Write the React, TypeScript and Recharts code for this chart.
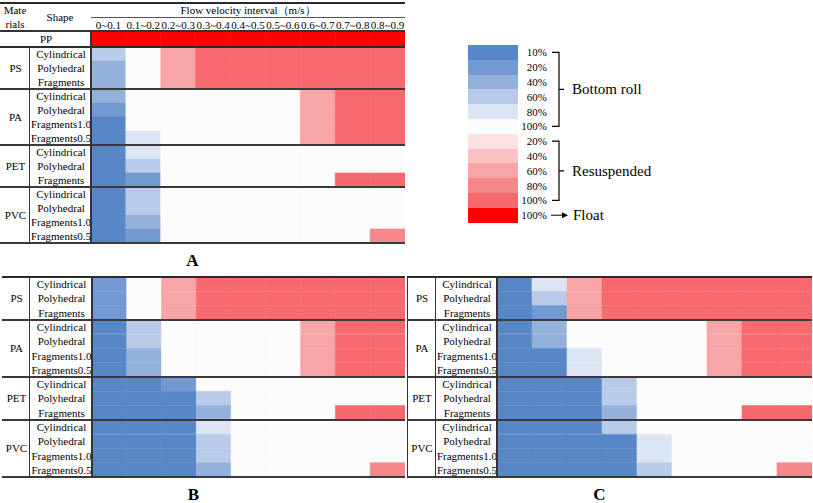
import { Bar, BarChart, Cell, XAxis, YAxis } from "recharts";

const FONT = "'Liberation Serif', Tinos, 'Times New Roman', 'DejaVu Serif', serif";

// velocity intervals (columns)
const INTERVALS = ["0~0.1", "0.1~0.2", "0.2~0.3", "0.3~0.4", "0.4~0.5", "0.5~0.6", "0.6~0.7", "0.7~0.8", "0.8~0.9"];

const MATERIALS = ["PS", "PA", "PET", "PVC"];
const MATERIAL_ROWS = [3, 4, 3, 4];
const SHAPES = [
    "Cylindrical", "Polyhedral", "Fragments",
    "Cylindrical", "Polyhedral", "Fragments1.0", "Fragments0.5",
    "Cylindrical", "Polyhedral", "Fragments",
    "Cylindrical", "Polyhedral", "Fragments1.0", "Fragments0.5",
];

// level codes: b = bottom roll %, w = 100% bottom roll, r = resuspended %, fl = float
const PP_LEVELS = [["fl", "fl", "fl", "fl", "fl", "fl", "fl", "fl", "fl"]];

const LEVELS_A = [
    ["b60", "w", "r60", "r100", "r100", "r100", "r100", "r100", "r100"],
    ["b40", "w", "r60", "r100", "r100", "r100", "r100", "r100", "r100"],
    ["b40", "w", "r60", "r100", "r100", "r100", "r100", "r100", "r100"],
    ["b40", "w", "w", "w", "w", "w", "r60", "r100", "r100"],
    ["b20", "w", "w", "w", "w", "w", "r60", "r100", "r100"],
    ["b10", "w", "w", "w", "w", "w", "r60", "r100", "r100"],
    ["b10", "b80", "w", "w", "w", "w", "r60", "r100", "r100"],
    ["b10", "b80", "w", "w", "w", "w", "w", "w", "w"],
    ["b10", "b60", "w", "w", "w", "w", "w", "w", "w"],
    ["b10", "b20", "w", "w", "w", "w", "w", "r100", "r100"],
    ["b10", "b60", "w", "w", "w", "w", "w", "w", "w"],
    ["b10", "b60", "w", "w", "w", "w", "w", "w", "w"],
    ["b10", "b40", "w", "w", "w", "w", "w", "w", "w"],
    ["b10", "b20", "w", "w", "w", "w", "w", "w", "r80"],
];

const LEVELS_B = [
    ["b20", "w", "r60", "r100", "r100", "r100", "r100", "r100", "r100"],
    ["b20", "w", "r60", "r100", "r100", "r100", "r100", "r100", "r100"],
    ["b20", "w", "r60", "r100", "r100", "r100", "r100", "r100", "r100"],
    ["b10", "b60", "w", "w", "w", "w", "r60", "r100", "r100"],
    ["b10", "b60", "w", "w", "w", "w", "r60", "r100", "r100"],
    ["b10", "b40", "w", "w", "w", "w", "r60", "r100", "r100"],
    ["b10", "b40", "w", "w", "w", "w", "r60", "r100", "r100"],
    ["b10", "b10", "b20", "w", "w", "w", "w", "w", "w"],
    ["b10", "b10", "b10", "b60", "w", "w", "w", "w", "w"],
    ["b10", "b10", "b10", "b40", "w", "w", "w", "r100", "r100"],
    ["b10", "b10", "b10", "b80", "w", "w", "w", "w", "w"],
    ["b10", "b10", "b10", "b60", "w", "w", "w", "w", "w"],
    ["b10", "b10", "b10", "b60", "w", "w", "w", "w", "w"],
    ["b10", "b10", "b10", "b40", "w", "w", "w", "w", "r80"],
];

const LEVELS_C = [
    ["b10", "b80", "r60", "r100", "r100", "r100", "r100", "r100", "r100"],
    ["b10", "b60", "r60", "r100", "r100", "r100", "r100", "r100", "r100"],
    ["b10", "b20", "r60", "r100", "r100", "r100", "r100", "r100", "r100"],
    ["b10", "b40", "w", "w", "w", "w", "r60", "r100", "r100"],
    ["b10", "b40", "w", "w", "w", "w", "r60", "r100", "r100"],
    ["b10", "b10", "b80", "w", "w", "w", "r60", "r100", "r100"],
    ["b10", "b10", "b80", "w", "w", "w", "r60", "r100", "r100"],
    ["b10", "b10", "b10", "b60", "w", "w", "w", "w", "w"],
    ["b10", "b10", "b10", "b60", "w", "w", "w", "w", "w"],
    ["b10", "b10", "b10", "b40", "w", "w", "w", "r100", "r100"],
    ["b10", "b10", "b10", "b60", "w", "w", "w", "w", "w"],
    ["b10", "b10", "b10", "b10", "b80", "w", "w", "w", "w"],
    ["b10", "b10", "b10", "b10", "b80", "w", "w", "w", "w"],
    ["b10", "b10", "b10", "b10", "b60", "w", "w", "w", "r80"],
];

const LEGEND_LEVELS = ["b10", "b20", "b40", "b60", "b80", "w", "r20", "r40", "r60", "r80", "r100", "fl"];
const LEGEND_LABELS = ["10%", "20%", "40%", "60%", "80%", "100%", "20%", "40%", "60%", "80%", "100%", "100%"];

const COLORS: Record<string, string> = {
    b10: "#5887c7",
    b20: "#7299d1",
    b40: "#94b1dc",
    b60: "#b9cbe8",
    b80: "#dce5f3",
    w: "#fcfcfc",
    r20: "#fde1e2",
    r40: "#fbc2c4",
    r60: "#f8a5a8",
    r80: "#f6878a",
    r100: "#f66a6d",
    fl: "#ff0000",
};

const Txt = ({ x, y, children, size = 11, weight = 400, anchor = "middle" }: any) => (
    <div
        style={{
            position: "absolute",
            left: x,
            top: y,
            transform: `translate(${anchor === "middle" ? "-50%" : anchor === "end" ? "-100%" : "0"}, -50%)`,
            fontSize: size,
            fontWeight: weight,
            fontFamily: FONT,
            whiteSpace: "nowrap",
            lineHeight: 1,
            color: "#000",
        }}
    >
        {children}
    </div>
);

const HLine = ({ x1, x2, y, t = 1, c = "#333" }: any) => (
    <div style={{ position: "absolute", left: x1, top: y - t / 2, width: x2 - x1, height: t, background: c }} />
);

const VLine = ({ x, y1, y2, t = 1, c = "#333" }: any) => (
    <div style={{ position: "absolute", left: x - t / 2, top: y1, width: t, height: y2 - y1, background: c }} />
);

const HeatStrip = ({ levels, left, top, width, height, tickHeight = 0 }: any) => {
    const data = levels.map((row: string[], i: number) => {
        const d: Record<string, any> = { key: `r${i}` };
        row.forEach((_, j) => (d[`c${j}`] = 1));
        return d;
    });
    return (
        <div style={{ position: "absolute", left, top }}>
            <BarChart
                layout="vertical"
                width={width}
                height={height}
                data={data}
                margin={{ top: 0, right: 0, bottom: 0, left: 0 }}
                barCategoryGap={0}
                barGap={0}
            >
                <XAxis
                    type="number"
                    domain={[0, INTERVALS.length]}
                    hide={!tickHeight}
                    orientation="top"
                    height={tickHeight}
                    ticks={INTERVALS.map((_, i) => i + 0.5)}
                    tickFormatter={(v: number) => INTERVALS[Math.floor(v)]}
                    interval={0}
                    axisLine={false}
                    tickLine={false}
                    tickSize={0}
                    tickMargin={2}
                    tick={{ fill: "#000", fontSize: 11, fontFamily: FONT }}
                />
                <YAxis type="category" dataKey="key" hide />
                {INTERVALS.map((_, j) => (
                    <Bar key={j} dataKey={`c${j}`} stackId="s" isAnimationActive={false}>
                        {levels.map((row: string[], i: number) => (
                            <Cell key={i} fill={COLORS[row[j]]} stroke={COLORS[row[j]]} strokeWidth={0.6} />
                        ))}
                    </Bar>
                ))}
            </BarChart>
        </div>
    );
};

const TablePanel = ({ levels, left, matX, plotX, right, top, bottom, label }: any) => {
    const rowH = (bottom - top) / SHAPES.length;
    let acc = 0;
    const groups = MATERIALS.map((m, i) => {
        const start = acc;
        acc += MATERIAL_ROWS[i];
        return { m, start, end: acc };
    });
    return (
        <>
            <HeatStrip levels={levels} left={plotX} top={top} width={right - plotX} height={bottom - top} />
            {SHAPES.map((s, i) => (
                <Txt key={i} x={(matX + plotX) / 2 + 1} y={top + rowH * (i + 0.5)}>{s}</Txt>
            ))}
            {groups.map((g) => (
                <Txt key={g.m} x={(left + matX) / 2 + 1} y={top + rowH * (g.start + g.end) / 2}>{g.m}</Txt>
            ))}
            <HLine x1={left} x2={right} y={top} t={2} c="#2a2a2a" />
            {groups.map((g) => (
                <HLine key={g.m} x1={left} x2={right} y={top + rowH * g.end} t={2} c="#3a3a3a" />
            ))}
            <VLine x={matX} y1={top} y2={bottom} t={1} c="#333" />
            <VLine x={plotX} y1={top} y2={bottom} t={2} c="#333" />
            <Txt x={(left + right) / 2 - 10} y={bottom + 17} size={17} weight={700}>{label}</Txt>
        </>
    );
};

const Legend = () => {
    const x0 = 468;
    const y0 = 45;
    const h = 14.8;
    const cy = (i: number) => y0 + h * (i + 0.5);
    return (
        <>
            {LEGEND_LEVELS.map((lv, i) => (
                <div
                    key={i}
                    style={{ position: "absolute", left: x0, top: y0 + h * i, width: 50, height: h + 0.3, background: COLORS[lv] }}
                />
            ))}
            {LEGEND_LABELS.map((l, i) => (
                <Txt key={i} x={547} y={cy(i)} size={11} anchor="end">{l}</Txt>
            ))}
            <svg style={{ position: "absolute", left: 0, top: 0 }} width={813} height={503}>
                <path d={`M552,${cy(0)} H559 V${cy(5)} H552 M559,${(cy(0) + cy(5)) / 2} H564`} stroke="#000" strokeWidth={1.2} fill="none" />
                <path d={`M552,${cy(6)} H559 V${cy(10)} H552 M559,${(cy(6) + cy(10)) / 2} H564`} stroke="#000" strokeWidth={1.2} fill="none" />
                <path d={`M551,${cy(11)} H563`} stroke="#000" strokeWidth={1} />
                <path d={`M562,${cy(11) - 3} L568,${cy(11)} L562,${cy(11) + 3} Z`} fill="#000" />
            </svg>
            <Txt x={572} y={(cy(0) + cy(5)) / 2} size={15} anchor="start">Bottom roll</Txt>
            <Txt x={572} y={(cy(6) + cy(10)) / 2} size={15} anchor="start">Resuspended</Txt>
            <Txt x={573} y={cy(11)} size={15} anchor="start">Float</Txt>
        </>
    );
};

const App = () => {
    return (
        <div style={{ position: "absolute", left: 0, top: 0, width: 813, height: 503, background: "#fff", overflow: "hidden" }}>
            {/* panel A header */}
            <HLine x1={0} x2={405} y={3} t={2} c="#2a2a2a" />
            <Txt x={15} y={10}>Mate</Txt>
            <Txt x={15} y={24}>rials</Txt>
            <Txt x={60} y={17}>Shape</Txt>
            <Txt x={248} y={10}>Flow velocity interval（m/s）</Txt>
            <HLine x1={91} x2={405} y={17} t={1} c="#555" />
            <HeatStrip levels={PP_LEVELS} left={91} top={17} width={314} height={29} tickHeight={14} />
            <HLine x1={0} x2={405} y={31} t={1.5} c="#333" />
            <Txt x={46} y={39}>PP</Txt>
            <VLine x={91} y1={31} y2={47} t={2} c="#333" />

            <TablePanel levels={LEVELS_A} left={0} matX={29} plotX={91} right={405} top={47} bottom={243} label="A" />
            <TablePanel levels={LEVELS_B} left={2} matX={29} plotX={92} right={405} top={277} bottom={477} label="B" />
            <TablePanel levels={LEVELS_C} left={407} matX={435} plotX={497} right={812} top={277} bottom={477} label="C" />
            <VLine x={407} y1={277} y2={477} t={1} c="#333" />

            <Legend />
        </div>
    );
};

export default App;
